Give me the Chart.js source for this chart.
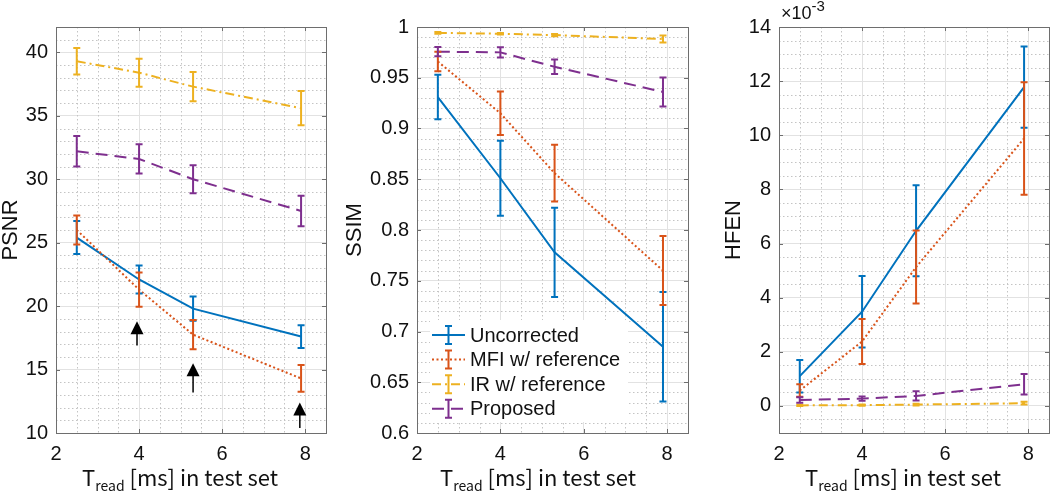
<!DOCTYPE html>
<html>
<head>
<meta charset="utf-8">
<script src="https://cdn.jsdelivr.net/npm/chart.js@4.4.0/dist/chart.umd.min.js"></script>
<style>
  body { margin: 0; background: #fff; width: 1050px; height: 492px; position: relative; overflow: hidden; font-family: "Liberation Sans", Arial, sans-serif; }
  .pane { position: absolute; top: 0; height: 492px; }
  .xt { position: absolute; top: 465px; font-family: "Noto Sans CJK JP", "Noto Sans", sans-serif; font-size: 22px; line-height: 22px; color: #111; white-space: nowrap; }
  .xt sub { font-size: 14px; vertical-align: -5px; line-height: 0; }
  .expo { position: absolute; left: 781px; top: 4px; font-size: 18px; line-height: 18px; color: #111; }
  .expo sup { font-size: 15px; vertical-align: 8px; line-height: 0; }
</style>
</head>
<body>
<div class="pane" style="left:-2px;width:332px"><canvas id="psnrChart"></canvas></div>
<div class="pane" style="left:342px;width:348px"><canvas id="ssimChart"></canvas></div>
<div class="pane" style="left:721px;width:329px"><canvas id="hfenChart"></canvas></div>
<div class="xt" style="left:82px">T<sub>read</sub> [ms] in test set</div>
<div class="xt" style="left:440px">T<sub>read</sub> [ms] in test set</div>
<div class="xt" style="left:805px">T<sub>read</sub> [ms] in test set</div>
<div class="expo">&times;10<sup>-3</sup></div>

<script>
// read times of the test set
const readTimes = [2.5, 4, 5.3, 7.9];
const seriesNames = ['Uncorrected', 'MFI w/ reference', 'IR w/ reference', 'Proposed'];

// PSNR
const psnrUncorrected = [25.4, 22.1, 19.8, 17.6];
const psnrUncorrectedErr = [1.3, 1.1, 0.95, 0.9];
const psnrMfi = [26.0, 21.3, 17.75, 14.3];
const psnrMfiErr = [1.15, 1.35, 1.15, 1.05];
const psnrIr = [39.3, 38.4, 37.3, 35.6];
const psnrIrErr = [1.05, 1.1, 1.15, 1.35];
const psnrProposed = [32.2, 31.6, 30.0, 27.5];
const psnrProposedErr = [1.2, 1.15, 1.1, 1.2];

// SSIM
const ssimUncorrected = [0.931, 0.851, 0.778, 0.685];
const ssimUncorrectedErr = [0.022, 0.037, 0.044, 0.054];
const ssimMfi = [0.966, 0.915, 0.856, 0.760];
const ssimMfiErr = [0.0095, 0.0215, 0.028, 0.034];
const ssimIr = [0.9942, 0.9934, 0.9920, 0.9882];
const ssimIrErr = [0.0008, 0.0008, 0.0010, 0.0035];
const ssimProposed = [0.9757, 0.9750, 0.9608, 0.9360];
const ssimProposedErr = [0.0045, 0.005, 0.0072, 0.0143];

// HFEN (x 1e-3)
const hfenUncorrected = [1.1, 3.48, 6.47, 11.78];
const hfenUncorrectedErr = [0.6, 1.32, 1.68, 1.5];
const hfenMfi = [0.57, 2.38, 5.13, 9.88];
const hfenMfiErr = [0.23, 0.83, 1.35, 2.08];
const hfenIr = [0.02, 0.03, 0.05, 0.1];
const hfenIrErr = [0.02, 0.02, 0.03, 0.05];
const hfenProposed = [0.22, 0.27, 0.37, 0.8];
const hfenProposedErr = [0.1, 0.08, 0.17, 0.38];

// tick labels
const xTicks = [2, 4, 6, 8];
const psnrTicks = [10, 15, 20, 25, 30, 35, 40];
const ssimTicks = [0.6, 0.65, 0.7, 0.75, 0.8, 0.85, 0.9, 0.95, 1];
const hfenTicks = [0, 2, 4, 6, 8, 10, 12, 14];

// arrows in the PSNR panel (data coords)
const arrowX = [3.95, 5.3, 7.87];
const arrowTip = [18.8, 15.5, 12.4];
const arrowTail = [16.9, 13.2, 10.4];

const colors = ['#0072BD', '#D95319', '#EDB120', '#7E2F8E'];
const dashes = [[], [2, 2.5], [9, 4, 2, 4], [12, 7]];
const fontFamily = '"Liberation Sans", Arial, sans-serif';
const tickFont = { family: fontFamily, size: 20 };

function makeDatasets(vals, errs) {
  return vals.map((v, i) => ({
    label: seriesNames[i],
    data: readTimes.map((x, j) => ({ x: x, y: v[j] })),
    errors: errs[i],
    borderColor: colors[i],
    backgroundColor: colors[i],
    borderWidth: 2,
    borderDash: dashes[i],
    pointRadius: 0,
    tension: 0,
    order: 4 - i
  }));
}

// dotted minor grid, axes box and inward ticks, like matlab
const matlabAxes = {
  id: 'matlabAxes',
  beforeDatasetsDraw(chart, args, opts) {
    const { ctx, chartArea: a, scales: { x, y } } = chart;
    ctx.save();
    ctx.strokeStyle = '#c4c4c4';
    ctx.lineWidth = 1;
    ctx.setLineDash([1.5, 2.5]);
    for (let v = x.min; v <= x.max + 1e-9; v += opts.xMinor) {
      if (xTicks.some(t => Math.abs(t - v) < 1e-6)) continue;
      const px = Math.round(x.getPixelForValue(v)) + 0.5;
      ctx.beginPath(); ctx.moveTo(px, a.top); ctx.lineTo(px, a.bottom); ctx.stroke();
    }
    for (let v = y.min; v <= y.max + 1e-9; v += opts.yMinor) {
      if (y.ticks.some(t => Math.abs(t.value - v) < 1e-6)) continue;
      const py = Math.round(y.getPixelForValue(v)) + 0.5;
      ctx.beginPath(); ctx.moveTo(a.left, py); ctx.lineTo(a.right, py); ctx.stroke();
    }
    ctx.restore();
  },
  afterDraw(chart) {
    const { ctx, chartArea: a, scales: { x, y } } = chart;
    ctx.save();
    ctx.strokeStyle = '#6e6e6e';
    ctx.lineWidth = 1;
    ctx.strokeRect(Math.round(a.left) + 0.5, Math.round(a.top) + 0.5, Math.round(a.right - a.left), Math.round(a.bottom - a.top));
    ctx.beginPath();
    x.ticks.forEach(t => {
      const px = Math.round(x.getPixelForValue(t.value)) + 0.5;
      ctx.moveTo(px, a.bottom); ctx.lineTo(px, a.bottom - 4);
      ctx.moveTo(px, a.top); ctx.lineTo(px, a.top + 4);
    });
    y.ticks.forEach(t => {
      const py = Math.round(y.getPixelForValue(t.value)) + 0.5;
      ctx.moveTo(a.left, py); ctx.lineTo(a.left + 4, py);
      ctx.moveTo(a.right, py); ctx.lineTo(a.right - 4, py);
    });
    ctx.stroke();
    ctx.restore();
  }
};

const errorBars = {
  id: 'errorBars',
  afterDatasetsDraw(chart) {
    const { ctx, scales: { x, y } } = chart;
    ctx.save();
    chart.data.datasets.forEach((ds, i) => {
      ctx.strokeStyle = ds.borderColor;
      ctx.lineWidth = 2;
      ctx.setLineDash([]);
      ds.data.forEach((p, j) => {
        const px = x.getPixelForValue(p.x);
        const top = y.getPixelForValue(p.y + ds.errors[j]);
        const bot = y.getPixelForValue(p.y - ds.errors[j]);
        ctx.beginPath();
        ctx.moveTo(px, top); ctx.lineTo(px, bot);
        ctx.moveTo(px - 3.5, top); ctx.lineTo(px + 3.5, top);
        ctx.moveTo(px - 3.5, bot); ctx.lineTo(px + 3.5, bot);
        ctx.stroke();
      });
    });
    ctx.restore();
  }
};

const arrows = {
  id: 'arrows',
  afterDatasetsDraw(chart, args, opts) {
    if (!opts.show) return;
    const { ctx, scales: { x, y } } = chart;
    ctx.save();
    ctx.fillStyle = '#000';
    ctx.strokeStyle = '#000';
    ctx.lineWidth = 1.5;
    arrowX.forEach((ax, i) => {
      const px = x.getPixelForValue(ax);
      const tip = y.getPixelForValue(arrowTip[i]);
      const tail = y.getPixelForValue(arrowTail[i]);
      ctx.beginPath();
      ctx.moveTo(px, tip + 12); ctx.lineTo(px, tail);
      ctx.stroke();
      ctx.beginPath();
      ctx.moveTo(px, tip); ctx.lineTo(px - 6.5, tip + 13); ctx.lineTo(px + 6.5, tip + 13);
      ctx.closePath(); ctx.fill();
    });
    ctx.restore();
  }
};

const legendBox = {
  id: 'legendBox',
  afterDraw(chart, args, opts) {
    if (!opts.show) return;
    const { ctx, chartArea: a } = chart;
    const left = a.left + 13, top = a.bottom - 113;
    ctx.save();
    ctx.fillStyle = '#fff';
    ctx.fillRect(left, top, 198, 102);
    ctx.font = '20px ' + fontFamily;
    ctx.textBaseline = 'middle';
    seriesNames.forEach((name, i) => {
      const cy = top + 15 + i * 24.6;
      ctx.strokeStyle = colors[i];
      ctx.lineWidth = 2;
      ctx.setLineDash(dashes[i]);
      ctx.beginPath(); ctx.moveTo(left + 2, cy); ctx.lineTo(left + 35, cy); ctx.stroke();
      ctx.setLineDash([]);
      const cx = left + 18.5;
      ctx.beginPath();
      ctx.moveTo(cx, cy - 9); ctx.lineTo(cx, cy + 9);
      ctx.moveTo(cx - 3.5, cy - 9); ctx.lineTo(cx + 3.5, cy - 9);
      ctx.moveTo(cx - 3.5, cy + 9); ctx.lineTo(cx + 3.5, cy + 9);
      ctx.stroke();
      ctx.fillStyle = '#111';
      ctx.fillText(name, left + 40, cy + 1);
    });
    ctx.restore();
  }
};

function makeChart(id, datasets, opt) {
  return new Chart(document.getElementById(id), {
    type: 'line',
    data: { datasets: datasets },
    plugins: [matlabAxes, errorBars, arrows, legendBox],
    options: {
      responsive: true,
      maintainAspectRatio: false,
      animation: false,
      layout: { padding: { top: 27, right: opt.padRight, left: 0, bottom: 0 } },
      scales: {
        x: {
          type: 'linear', min: 2, max: 8.5,
          afterBuildTicks: s => { s.ticks = xTicks.map(v => ({ value: v })); },
          afterFit: s => { s.height = 59; },
          grid: { color: '#e2e2e2', drawTicks: false },
          border: { display: false },
          ticks: { padding: 9, font: tickFont, color: '#111', maxRotation: 0, autoSkip: false }
        },
        y: {
          min: opt.yMin, max: opt.yMax,
          afterBuildTicks: s => { s.ticks = opt.yTicks.map(v => ({ value: v })); },
          afterFit: s => { s.width = opt.yWidth; },
          grid: { color: '#e2e2e2', drawTicks: false },
          border: { display: false },
          ticks: { padding: 8, font: tickFont, color: '#111', autoSkip: false, callback: v => String(+v.toFixed(2)) },
          title: { display: true, text: opt.title, font: { family: fontFamily, size: 22 }, color: '#111', padding: 0 }
        }
      },
      plugins: {
        legend: { display: false },
        tooltip: { enabled: false },
        matlabAxes: { xMinor: 0.5, yMinor: opt.yMinor },
        arrows: { show: !!opt.arrows },
        legendBox: { show: !!opt.legend }
      }
    }
  });
}

makeChart('psnrChart',
  makeDatasets([psnrUncorrected, psnrMfi, psnrIr, psnrProposed], [psnrUncorrectedErr, psnrMfiErr, psnrIrErr, psnrProposedErr]),
  { yMin: 10, yMax: 42, yTicks: psnrTicks, yMinor: 1, yWidth: 58, padRight: 4, title: 'PSNR', arrows: true });

makeChart('ssimChart',
  makeDatasets([ssimUncorrected, ssimMfi, ssimIr, ssimProposed], [ssimUncorrectedErr, ssimMfiErr, ssimIrErr, ssimProposedErr]),
  { yMin: 0.6, yMax: 1, yTicks: ssimTicks, yMinor: 0.01, yWidth: 75, padRight: 2, title: 'SSIM', legend: true });

makeChart('hfenChart',
  makeDatasets([hfenUncorrected, hfenMfi, hfenIr, hfenProposed], [hfenUncorrectedErr, hfenMfiErr, hfenIrErr, hfenProposedErr]),
  { yMin: -1, yMax: 14, yTicks: hfenTicks, yMinor: 0.5, yWidth: 58, padRight: 1, title: 'HFEN' });
</script>
</body>
</html>
